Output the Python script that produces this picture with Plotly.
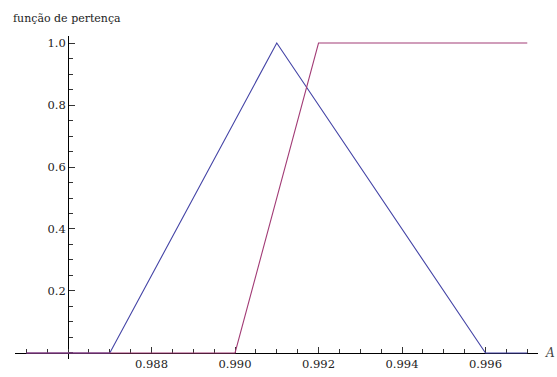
import plotly.graph_objects as go

# Membership functions (triangular and ramp)
tri_x = [0.985, 0.987, 0.991, 0.996, 0.997]
tri_y = [0.0, 0.0, 1.0, 0.0, 0.0]

ramp_x = [0.985, 0.990, 0.992, 0.997]
ramp_y = [0.0, 0.0, 1.0, 1.0]

x_ticks = [0.988, 0.990, 0.992, 0.994, 0.996]
x_tick_text = ["0.988", "0.990", "0.992", "0.994", "0.996"]
y_ticks = [0.2, 0.4, 0.6, 0.8, 1.0]
y_tick_text = ["0.2", "0.4", "0.6", "0.8", "1.0"]

x_origin = 0.986
x_range = [0.98473, 0.997257]
y_range = [-0.0194, 1.0226]

W, H = 557, 377
ML, MR, MT, MB = 15, 19, 36, 18

SERIF = "DejaVu Serif"
font = dict(family=SERIF, size=11.5, color="#222")

fig = go.Figure()
fig.add_trace(go.Scatter(x=tri_x, y=tri_y, mode="lines",
                         line=dict(color="#4444a6", width=1.1), hoverinfo="skip"))
fig.add_trace(go.Scatter(x=ramp_x, y=ramp_y, mode="lines",
                         line=dict(color="#a23c76", width=1.1), hoverinfo="skip"))

# axes cross at (x_origin, 0)
x_pos = (0 - y_range[0]) / (y_range[1] - y_range[0])
y_pos = (x_origin - x_range[0]) / (x_range[1] - x_range[0])

fig.update_layout(
    width=W, height=H,
    margin=dict(l=ML, r=MR, t=MT, b=MB, autoexpand=False),
    paper_bgcolor="white", plot_bgcolor="white",
    showlegend=False,
    font=font,
    xaxis=dict(
        range=x_range, anchor="free", position=x_pos, automargin=False,
        showgrid=False, zeroline=False,
        showline=True, linecolor="black", linewidth=1,
        ticks="inside", ticklen=6, tickwidth=1, tickcolor="#333",
        tickvals=x_ticks, ticktext=x_tick_text, tickfont=font,
        minor=dict(ticks="inside", ticklen=4, tickwidth=1, tickcolor="#333",
                   tick0=0.986, dtick=0.0005, showgrid=False),
        layer="below traces",
    ),
    yaxis=dict(
        range=y_range, anchor="free", position=y_pos, automargin=False,
        showgrid=False, zeroline=False,
        showline=True, linecolor="black", linewidth=1,
        ticks="inside", ticklen=6, tickwidth=1, tickcolor="#333",
        tickvals=y_ticks, ticktext=y_tick_text, tickfont=font,
        minor=dict(ticks="inside", ticklen=4, tickwidth=1, tickcolor="#333",
                   tick0=0, dtick=0.05, showgrid=False),
        layer="below traces",
    ),
    annotations=[
        dict(text="função de pertença", xref="paper", yref="paper",
             x=-4 / (W - ML - MR), y=1 + 18 / (H - MT - MB),
             xanchor="left", yanchor="middle", showarrow=False,
             font=dict(family=SERIF, size=11, color="#222")),
        dict(text="<i>A</i>", xref="paper", yref="paper",
             x=(543 - ML) / (W - ML - MR), y=x_pos,
             xanchor="left", yanchor="middle", showarrow=False,
             font=dict(family=SERIF, size=12, color="#444")),
    ],
)

fig.write_html("out.html")
